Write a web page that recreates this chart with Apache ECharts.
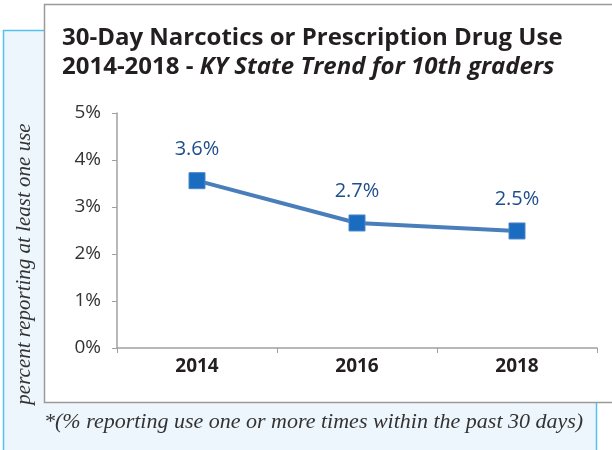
<!DOCTYPE html>
<html><head><meta charset="utf-8">
<script src="https://cdn.jsdelivr.net/npm/echarts@6/dist/echarts.min.js"></script>
<style>html,body{margin:0;padding:0;background:#fff}#c{width:612px;height:450px}</style>
</head><body><div id="c"></div>
<script>
const categories = ['2014', '2016', '2018'];
const values = [3.56, 2.66, 2.49];
const yTicks = [0, 1, 2, 3, 4, 5];

const chart = echarts.init(document.getElementById('c'), null, {renderer: 'canvas'});
chart.setOption({
  backgroundColor: '#ffffff',
  animation: false,
  graphic: [
    {type: 'rect', z: -10, shape: {x: 3.5, y: 30.5, width: 593, height: 430},
     style: {fill: '#eef6fd', stroke: '#55c1ef', lineWidth: 1.5}},
    {type: 'rect', z: -9, shape: {x: 44.5, y: 4.5, width: 600, height: 398},
     style: {fill: '#ffffff', stroke: '#9a9a9a', lineWidth: 1.5}},
    {type: 'text', left: 44, top: 411,
     style: {text: '*(% reporting use one or more times within the past 30 days)',
       font: 'italic 22px "Liberation Serif"', fill: '#333333'}},
    {type: 'text', x: 24, y: 264, rotation: Math.PI / 2, originX: 0, originY: 0,
     style: {text: 'percent reporting at least one use', font: 'italic 21px "Liberation Serif"',
       fill: '#333333', textAlign: 'center', textVerticalAlign: 'middle'}}
  ],
  title: {
    left: 57, top: 19, itemGap: 0,
    text: '{b|30-Day Narcotics or Prescription Drug Use}\n{b|2014-2018 - }{i|KY State Trend for 10th graders}',
    textStyle: {
      rich: {
        b: {fontFamily: 'Open Sans', fontWeight: 'bold', fontSize: 24, color: '#231f20', lineHeight: 29},
        i: {fontFamily: 'Open Sans', fontWeight: 'bold', fontStyle: 'italic', fontSize: 24, color: '#231f20', lineHeight: 29}
      }
    }
  },
  grid: {left: 117, right: 15, top: 113, bottom: 102},
  xAxis: {
    type: 'category', data: categories, boundaryGap: true,
    axisLine: {lineStyle: {color: '#a0a0a0', width: 1.5}},
    axisTick: {show: true, length: 5, lineStyle: {color: '#a0a0a0'}},
    axisLabel: {fontFamily: 'Open Sans', fontWeight: 'bold', fontSize: 19, color: '#231f20', margin: 9}
  },
  yAxis: {
    type: 'value', min: yTicks[0], max: yTicks[yTicks.length - 1], interval: 1,
    axisLine: {show: true, lineStyle: {color: '#a0a0a0', width: 1.5}},
    axisTick: {show: true, length: 5, lineStyle: {color: '#a0a0a0'}},
    splitLine: {show: false},
    axisLabel: {formatter: '{value}%', fontFamily: 'Open Sans', fontSize: 19, color: '#333333', margin: 16}
  },
  series: [{
    type: 'line', data: values,
    symbol: 'rect', symbolSize: 16,
    lineStyle: {color: '#4a7ebb', width: 4},
    itemStyle: {color: '#1a6cc0', borderColor: '#4a86c8', borderWidth: 1},
    label: {show: true, position: 'top', distance: 13,
      formatter: p => p.value.toFixed(1) + '%',
      fontFamily: 'Open Sans', fontSize: 20, color: '#1f4e8c'}
  }]
});
</script></body></html>
